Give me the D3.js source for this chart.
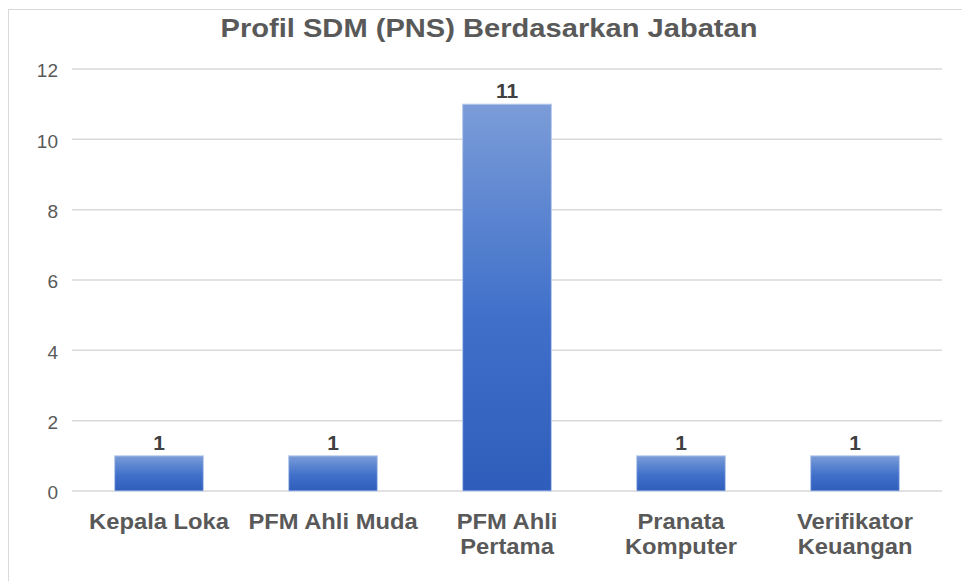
<!DOCTYPE html>
<html>
<head>
<meta charset="utf-8">
<script src="https://cdn.jsdelivr.net/npm/d3@7"></script>
<style>
  body { margin: 0; background: #fff; }
  text { font-family: "Liberation Sans", Arial, sans-serif; }
</style>
</head>
<body>
<div id="chartContainer"></div>
<script>
// chart data
const categories = [["Kepala Loka"], ["PFM Ahli Muda"], ["PFM Ahli", "Pertama"], ["Pranata", "Komputer"], ["Verifikator", "Keuangan"]];
const values = [1, 1, 11, 1, 1];
const yTicks = [0, 2, 4, 6, 8, 10, 12];
const title = "Profil SDM (PNS) Berdasarkan Jabatan";

const chartWidth = 962;
const chartHeight = 581;
const margin = { top: 69, right: 20, bottom: 90, left: 72 };
const width = chartWidth - margin.left - margin.right;
const height = chartHeight - margin.top - margin.bottom;

const svg = d3.select("#chartContainer").append("svg")
  .attr("width", chartWidth)
  .attr("height", chartHeight);

// outer border (only top/left visible in the crop)
svg.append("rect")
  .attr("x", 8.5).attr("y", 9.5)
  .attr("width", 1000).attr("height", 1000)
  .attr("fill", "none")
  .attr("stroke", "#d9d9d9");

// gradient for bars
const grad = svg.append("defs").append("linearGradient")
  .attr("id", "barGrad")
  .attr("x1", 0).attr("y1", 0).attr("x2", 0).attr("y2", 1);
grad.append("stop").attr("offset", "0%").attr("stop-color", "#7b9cd8");
grad.append("stop").attr("offset", "30%").attr("stop-color", "#5a84d0");
grad.append("stop").attr("offset", "55%").attr("stop-color", "#4070ca");
grad.append("stop").attr("offset", "100%").attr("stop-color", "#2e5dbb");

const g = svg.append("g")
  .attr("transform", `translate(${margin.left}, ${margin.top})`);

const keys = categories.map(d => d.join(" "));

const xScale = d3.scaleBand()
  .domain(keys)
  .range([0, width])
  .paddingInner(0.49)
  .paddingOuter(0.245);

const yScale = d3.scaleLinear()
  .domain([0, 12])
  .range([height, 0]);

// gridlines
g.append("g")
  .selectAll("line")
  .data(yTicks)
  .enter().append("line")
  .attr("x1", 0).attr("x2", width)
  .attr("y1", d => yScale(d)).attr("y2", d => yScale(d))
  .attr("stroke", "#d9d9d9")
  .attr("stroke-width", 1.5);

// y axis labels
const yAxis = g.append("g")
  .attr("transform", "translate(-14, 0)")
  .call(d3.axisLeft(yScale).tickValues(yTicks).tickSize(0).tickPadding(0));
yAxis.select(".domain").remove();
yAxis.selectAll("text")
  .attr("dy", "0.42em")
  .style("font-family", "'Liberation Sans', Arial, sans-serif")
  .style("font-size", "19px")
  .style("fill", "#595959");

// bars
g.selectAll(".bar")
  .data(values)
  .enter().append("rect")
  .attr("class", "bar")
  .attr("x", (d, i) => xScale(keys[i]))
  .attr("width", xScale.bandwidth())
  .attr("y", d => yScale(d))
  .attr("height", d => height - yScale(d))
  .style("fill", "url(#barGrad)")
  .style("stroke", "#b9cbec")
  .style("stroke-width", 1);

// value labels
g.selectAll(".val")
  .data(values)
  .enter().append("text")
  .attr("class", "val")
  .attr("transform", (d, i) => `translate(${xScale(keys[i]) + xScale.bandwidth() / 2}, ${yScale(d) - 6}) scale(1.05,1)`)
  .attr("text-anchor", "middle")
  .style("font-size", "20px")
  .style("font-weight", "bold")
  .style("fill", "#404040")
  .text(d => d);

// category labels
const catG = g.selectAll(".cat")
  .data(categories)
  .enter().append("text")
  .attr("class", "cat")
  .attr("transform", (d, i) => `translate(${xScale(keys[i]) + xScale.bandwidth() / 2}, ${height + 38}) scale(1.08,1)`)
  .attr("text-anchor", "middle")
  .style("font-size", "22px")
  .style("font-weight", "bold")
  .style("fill", "#595959");
catG.selectAll("tspan")
  .data(d => d)
  .enter().append("tspan")
  .attr("x", 0)
  .attr("dy", (d, i) => i === 0 ? 0 : 25)
  .text(d => d);

// title
svg.append("text")
  .attr("transform", "translate(489, 37) scale(1.12,1)")
  .attr("text-anchor", "middle")
  .style("font-size", "26px")
  .style("font-weight", "bold")
  .style("fill", "#595959")
  .text(title);
</script>
</body>
</html>
